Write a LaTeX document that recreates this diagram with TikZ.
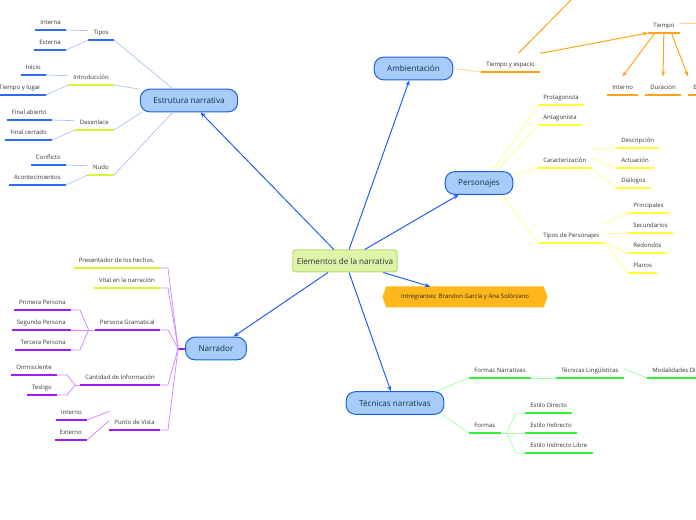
\documentclass[tikz,border=0pt]{standalone}
\usepackage{fontspec}
\setmainfont{Open Sans}
\usetikzlibrary{arrows.meta,shapes.symbols}

\definecolor{topicfill}{HTML}{A8CCFA}
\definecolor{topicdraw}{HTML}{1B62D9}
\definecolor{topictext}{HTML}{0A3440}
\definecolor{mainline}{HTML}{2160F2}
\definecolor{rootfill}{HTML}{DDF4A9}
\definecolor{rootdraw}{HTML}{B7DC6A}
\definecolor{teamfill}{HTML}{FFB71B}
\definecolor{lbltext}{HTML}{333333}
\definecolor{ublue}{HTML}{2E6BF0}
\definecolor{cblue}{HTML}{A8C2F2}
\definecolor{ulime}{HTML}{D4F53A}
\definecolor{uorng}{HTML}{FFA31A}
\definecolor{corng}{HTML}{FFCF8A}
\definecolor{uyelw}{HTML}{FFFF33}
\definecolor{cyelw}{HTML}{FFFF8C}
\definecolor{upurp}{HTML}{A21CF5}
\definecolor{cpurp}{HTML}{D38BFF}
\definecolor{ugrn}{HTML}{33F233}
\definecolor{cgrn}{HTML}{A8FFA8}

\newcommand\lblfont{\fontsize{4.5}{5.4}\selectfont}
\newcommand\topicfont{\fontsize{6.1}{7.3}\selectfont}

\tikzset{every picture/.style={line width=0.75pt}}
\tikzset{
  topic/.style={draw=topicdraw, fill=topicfill, line width=0.75pt, rounded corners=7pt,
    minimum height=17pt, inner xsep=9.75pt, font=\topicfont, text=topictext},
  root/.style={draw=rootdraw, fill=rootfill, line width=0.75pt, rounded corners=2pt,
    minimum height=16.5pt, inner xsep=3pt, font=\topicfont, text=black!80},
  team/.style={signal, signal to=east and west, signal pointer angle=140, fill=teamfill,
    draw=teamfill, minimum height=15pt, minimum width=123pt, font=\lblfont, text=black!85},
  lbl/.style={font=\lblfont, text=lbltext, inner xsep=3.6pt, inner ysep=1.6pt,
    text height=0.75em, text depth=0.25em,
    append after command={(\tikzlastnode.south west) edge[draw=#1, line width=1.5pt] (\tikzlastnode.south east)}},
  mainarrow/.style={draw=mainline, line width=0.75pt, -{Stealth[length=4pt,width=3.2pt]}},
  ambarrow/.style={draw=uorng, line width=0.75pt, -{Stealth[length=4pt,width=3.2pt]}},
  estrline/.style={draw=cblue, line width=0.5pt},
  ambline/.style={draw=corng, line width=0.6pt},
  persline/.style={draw=cyelw, line width=0.6pt},
  narrline/.style={draw=cpurp, line width=0.6pt},
  tecnline/.style={draw=cgrn, line width=0.6pt}
}

\begin{document}
\begin{tikzpicture}[x=0.75pt,y=0.75pt,yscale=-1,xscale=1]
\useasboundingbox (0,0) rectangle (696,520);

% Central Topic
\node[root] (root) at (345,261) {Elementos de la narrativa};
% Main Topics
\node[topic] (estr) at (189,100.5) {Estrutura narrativa};
\node[topic] (amb) at (413.5,68.5) {Ambientación};
\node[topic] (pers) at (479,183) {Personajes};
\node[topic] (narr) at (216,348.5) {Narrador};
\node[topic] (tecn) at (395,403) {Técnicas narrativas};
\node[team] (team) at (465,297) {Intregrantes: Brandon García y Ana Solórzano};

% Text Node -- Estrutura narrativa
\node[lbl=ublue, anchor=south east] (tipos) at (114,40) {Tipos};
\node[lbl=ublue, anchor=south east] (interna) at (66,30) {Interna};
\node[lbl=ublue, anchor=south east] (externa) at (66,50) {Externa};
\node[lbl=ulime, anchor=south east] (intro) at (114,85) {Introducción};
\node[lbl=ublue, anchor=south east] (inicio) at (46,75) {Inicio};
\node[lbl=ublue, anchor=south east] (tyl) at (46,95) {Tiempo y lugar};
\node[lbl=ulime, anchor=south east] (desen) at (114,130) {Desenlace};
\node[lbl=ublue, anchor=south east] (fabierto) at (52,120) {Final abierto};
\node[lbl=ublue, anchor=south east] (fcerrado) at (52,140) {Final cerrado};
\node[lbl=ulime, anchor=south east] (nudo) at (114,175) {Nudo};
\node[lbl=ublue, anchor=south east] (conflicto) at (66,165) {Conflicto};
\node[lbl=ublue, anchor=south east] (acont) at (66,185) {Acontecimientos};

% Text Node -- Narrador
\node[lbl=ulime, anchor=south east] (present) at (160,268) {Presentador de los hechos.};
\node[lbl=ulime, anchor=south east] (vital) at (160,288) {Vital en la narración};
\node[lbl=upurp, anchor=south east] (pgram) at (160,330) {Persona Gramatical};
\node[lbl=upurp, anchor=south east] (primera) at (71,310) {Primera Persona};
\node[lbl=upurp, anchor=south east] (segunda) at (71,330) {Segunda Persona};
\node[lbl=upurp, anchor=south east] (tercera) at (71,350) {Tercera Persona};
\node[lbl=upurp, anchor=south east] (cantidad) at (160,385) {Cantidad de Información};
\node[lbl=upurp, anchor=south east] (omni) at (57,375) {Omnisciente};
\node[lbl=upurp, anchor=south east] (testigo) at (57,395) {Testigo};
\node[lbl=upurp, anchor=south east] (punto) at (160,430) {Punto de Vista};
\node[lbl=upurp, anchor=south east] (pinterno) at (87,420) {Interno};
\node[lbl=upurp, anchor=south east] (pexterno) at (87,440) {Externo};

% Text Node -- Ambientación
\node[lbl=uorng, anchor=south west] (tye) at (481,72) {Tiempo y espacio};
\node[lbl=uorng, anchor=south west] (tiempo) at (648,33) {Tiempo};
\node[lbl=uorng, anchor=south west] (tinterno) at (607,95) {Interno};
\node[lbl=uorng, anchor=south west] (duracion) at (645,95) {Duración};
\node[lbl=uorng, anchor=south west] (texterno) at (688,95) {Externo};
\coordinate (espacio) at (626,-56);
\coordinate (tiemporight) at (760,22);

% Text Node -- Personajes
\node[lbl=uyelw, anchor=south west] (prota) at (538,105) {Protagonista};
\node[lbl=uyelw, anchor=south west] (antag) at (538,125) {Antagonista};
\node[lbl=uyelw, anchor=south west] (caract) at (538,168) {Caracterización};
\node[lbl=uyelw, anchor=south west] (tiposp) at (538,243) {Tipos de Personajes};
\node[lbl=uyelw, anchor=south west] (descr) at (616,148) {Descripción};
\node[lbl=uyelw, anchor=south west] (actu) at (616,168) {Actuación};
\node[lbl=uyelw, anchor=south west] (dialog) at (616,188) {Diálogos};
\node[lbl=uyelw, anchor=south west] (princ) at (628,213) {Principales};
\node[lbl=uyelw, anchor=south west] (secund) at (628,233) {Secundarios};
\node[lbl=uyelw, anchor=south west] (redond) at (628,253) {Redondos};
\node[lbl=uyelw, anchor=south west] (planos) at (628,273) {Planos};

% Text Node -- Técnicas narrativas
\node[lbl=ugrn, anchor=south west] (fnarr) at (469,378) {Formas Narrativas};
\node[lbl=ugrn, anchor=south west] (tling) at (556,378) {Técnicas Lingüísticas};
\node[lbl=ugrn, anchor=south west] (modal) at (647,378) {Modalidades Discursivas};
\node[lbl=ugrn, anchor=south west] (formas) at (469,433) {Formas};
\node[lbl=ugrn, anchor=south west] (edir) at (525,413) {Estilo Directo};
\node[lbl=ugrn, anchor=south west] (eind) at (525,433) {Estilo Indirecto};
\node[lbl=ugrn, anchor=south west] (eindl) at (525,453) {Estilo Indirecto Libre};

% Connection -- main
\draw[mainarrow] (root) -- (estr);
\draw[mainarrow] (root) -- (amb);
\draw[mainarrow] (root) -- (pers);
\draw[mainarrow] (root) -- (narr);
\draw[mainarrow] (root) -- (tecn);
\draw[mainarrow] (root) -- (team);

% Connection -- Estrutura narrativa
\draw[estrline] (estr.144) -- (tipos.south east);
\draw[estrline] (estr.167) -- (intro.south east);
\draw[estrline] (estr.194) -- (desen.south east);
\draw[estrline] (estr.216) -- (nudo.south east);
\draw[estrline] (tipos.west) -- (interna.south east);
\draw[estrline] (tipos.south west) -- (externa.south east);
\draw[estrline] (intro.west) -- (inicio.south east);
\draw[estrline] (intro.south west) -- (tyl.south east);
\draw[estrline] (desen.west) -- (fabierto.south east);
\draw[estrline] (desen.south west) -- (fcerrado.south east);
\draw[estrline] (nudo.west) -- (conflicto.south east);
\draw[estrline] (nudo.south west) -- (acont.south east);

% Connection -- Narrador
\coordinate (narrj) at ([xshift=-5.25pt]narr.west);
\draw[draw=upurp, line width=1.5pt] (narrj) -- (narr.west);
\draw[narrline] (present.south east) -- ++(8,0) -- (narrj);
\draw[narrline] (vital.south east) -- ++(8,0) -- (narrj);
\draw[narrline] (pgram.south east) -- ++(8,0) -- (narrj);
\draw[narrline] (cantidad.south east) -- ++(8,0) -- (narrj);
\draw[narrline] (punto.south east) -- ++(8,0) -- (narrj);
\coordinate (pgj) at ([xshift=-4.5pt]pgram.south west);
\draw[narrline] (pgj) -- (pgram.south west);
\draw[narrline] (primera.south east) -- ++(9,0) -- (pgj);
\draw[narrline] (segunda.south east) -- (pgj);
\draw[narrline] (tercera.south east) -- ++(9,0) -- (pgj);
\coordinate (cj) at ([xshift=-3.75pt]cantidad.south west);
\draw[narrline] (cj) -- (cantidad.south west);
\draw[narrline] (omni.south east) -- ++(10,0) -- (cj);
\draw[narrline] (testigo.south east) -- ++(10,0) -- (cj);
\draw[narrline] (punto.north west) -- (pinterno.south east);
\draw[narrline] (punto.west) -- (pexterno.south east);

% Connection -- Ambientación
\draw[ambline] (amb.east) -- (tye.south west);
\draw[ambarrow] (tye.50) -- (espacio);
\draw[ambarrow] (tye.north east) -- (tiempo.south west);
\draw[ambline] (tiempo.east) -- (tiemporight);
\draw[ambarrow] (tiempo.226) -- (tinterno.north);
\draw[ambarrow] (tiempo.south) -- (duracion.north);
\draw[ambarrow] (tiempo.309) -- (texterno.north west);

% Connection -- Personajes
\draw[persline] (pers.42) -- (prota.south west);
\draw[persline] (pers.33) -- (antag.south west);
\draw[persline] (pers.14) -- (caract.south west);
\draw[persline] (pers.-27) -- (tiposp.south west);
\draw[persline] (caract.north east) -- (descr.south west);
\draw[persline] (caract.east) -- (actu.south west);
\draw[persline] (caract.south east) -- (dialog.south west);
\draw[persline] (tiposp.north east) -- (princ.south west);
\draw[persline] (tiposp.east) -- (secund.south west);
\draw[persline] (tiposp.south east) -- (redond.south west);
\draw[persline] (tiposp.south east) -- (planos.south west);

% Connection -- Técnicas narrativas
\draw[tecnline] (tecn.16) -- (fnarr.south west);
\draw[tecnline] (tecn.-14) -- (formas.south west);
\draw[tecnline] (fnarr.south east) -- (tling.south west);
\draw[tecnline] (tling.east) -- (modal.south west);
\coordinate (fj) at ([xshift=4.5pt]formas.south east);
\draw[tecnline] (formas.south east) -- (fj);
\draw[tecnline] (edir.south west) -- ++(-9,0) -- (fj);
\draw[tecnline] (eind.south west) -- (fj);
\draw[tecnline] (eindl.south west) -- ++(-9,0) -- (fj);

\end{tikzpicture}
\end{document}
